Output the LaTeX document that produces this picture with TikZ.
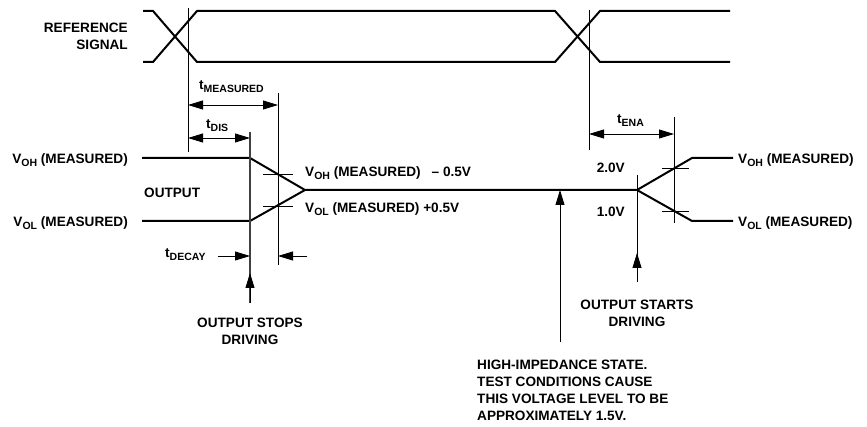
\documentclass[tikz,border=0pt]{standalone}
\usepackage{fontspec}
\setmainfont{Liberation Sans}
\usetikzlibrary{arrows.meta}
\newcommand{\lo}[1]{\raisebox{-3pt}{\fontsize{10.5}{12}\selectfont #1}}
\begin{document}
\begin{tikzpicture}[x=1pt, y=-1pt,
		sig/.style={line width=2pt, line join=miter},
		guide/.style={line width=0.9pt},
		tip/.style={-{Triangle[length=15pt,width=9pt]}},
		dim/.style={guide, {Triangle[length=15pt,width=9pt]}-{Triangle[length=15pt,width=9pt]}},
		lbl/.style={inner sep=0pt, font=\bfseries\fontsize{13.6}{17}\selectfont}]
				\useasboundingbox (0,0) rectangle (867,427);
				% reference signal
				\draw[sig] (143,11) -- (153,11) -- (197,62) -- (555,62) -- (600,11) -- (730,11);
				\draw[sig] (143,62) -- (153,62) -- (197,11) -- (555,11) -- (600,62) -- (730,62);
				% output
				\coordinate (stopH) at (250,158);
				\coordinate (stopL) at (250,221);
				\coordinate (hiz1) at (305,190);
				\coordinate (hiz2) at (637,190);
				\coordinate (startH) at (692,158);
				\coordinate (startL) at (692,221);
				\draw[sig] (142,158) -- (stopH) -- (hiz1) -- (hiz2) -- (startH) -- (733,158);
				\draw[sig] (142,221) -- (stopL) -- (hiz1);
				\draw[sig] (hiz2) -- (startL) -- (733,221);
				% guide lines
				\draw[guide] (188,8) -- (188,152);
				\draw[guide] (589,10) -- (589,150);
				\draw[guide] (278,93) -- (278,265);
				\draw[guide] (674,117) -- (674,223);
				\draw[guide, line width=1.3pt, black!75] (250,132) -- (250,303);
				\draw[guide] (637,175) -- (637,282);
				\foreach \y in {174,206}
					\draw[guide] (263,\y) -- (293,\y);
				\foreach \y in {168,211}
					\draw[guide] (662,\y) -- (689,\y);
				% timing arrows
				\draw[dim] (188,105) -- (278,105);
				\draw[dim] (188,138) -- (250,138);
				\draw[dim] (589,134) -- (674,134);
				\draw[guide, tip] (218,256) -- (250,256);
				\draw[guide, tip] (307,256) -- (278,256);
				\draw[guide, tip] (250,303) -- (250,273);
				\draw[guide, tip] (637,282) -- (637,253);
				\draw[guide, tip] (560,342) -- (560,190);
				% labels
				\node[lbl, anchor=north east, align=right] (ref) at (128,23) {REFERENCE\\SIGNAL};
				\node[lbl, anchor=base west] (tmeas) at (199,90) {t\lo{MEASURED}};
				\node[lbl, anchor=base west] (tdis) at (206,129) {t\lo{DIS}};
				\node[lbl, anchor=base west] (tena) at (617,124) {t\lo{ENA}};
				\node[lbl, anchor=base east] (vohL) at (128,164) {V\lo{OH} (MEASURED)};
				\node[lbl, anchor=base east] (volL) at (128,227) {V\lo{OL} (MEASURED)};
				\node[lbl, anchor=base west] (out) at (144,198) {OUTPUT};
				\node[lbl, anchor=base west] (vohM) at (305,177) {V\lo{OH} (MEASURED)\hspace{11pt}– 0.5V};
				\node[lbl, anchor=base west] (volM) at (305,213) {V\lo{OL} (MEASURED) +0.5V};
				\node[lbl, anchor=base west] (tdecay) at (165,258) {t\lo{DECAY}};
				\node[lbl, anchor=base east] (two) at (625,173) {2.0V};
				\node[lbl, anchor=base east] (one) at (625,217) {1.0V};
				\node[lbl, anchor=base west] (vohR) at (738,164) {V\lo{OH} (MEASURED)};
				\node[lbl, anchor=base west] (volR) at (738,227) {V\lo{OL} (MEASURED)};
				\node[lbl, anchor=north, align=center] (stops) at (250,318) {OUTPUT STOPS\\DRIVING};
				\node[lbl, anchor=north, align=center] (starts) at (637,300) {OUTPUT STARTS\\DRIVING};
				\node[lbl, anchor=north west, align=left] (hiz) at (477,360) {HIGH-IMPEDANCE STATE.\\TEST CONDITIONS CAUSE\\THIS VOLTAGE LEVEL TO BE\\APPROXIMATELY 1.5V.};
			\end{tikzpicture}
\end{document}
